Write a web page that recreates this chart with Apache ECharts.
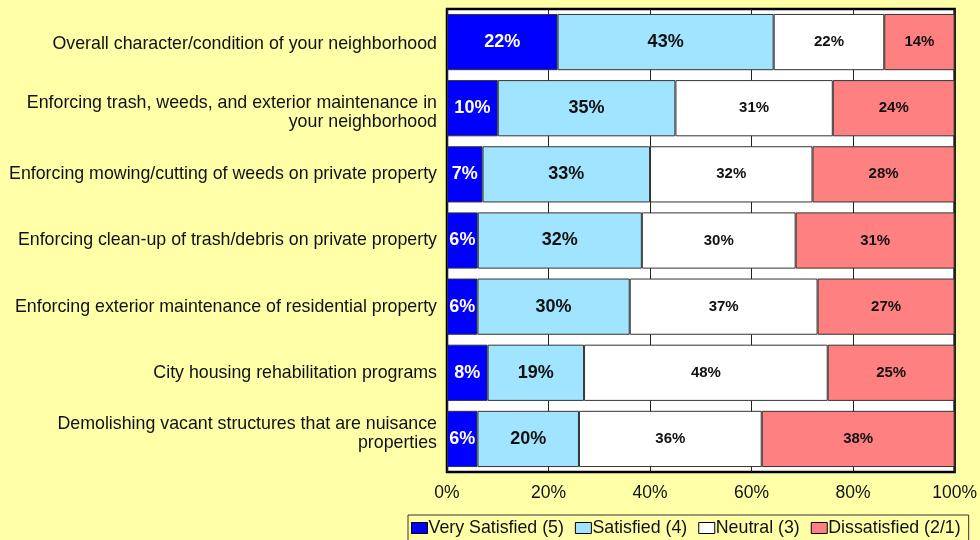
<!DOCTYPE html>
<html>
<head>
<meta charset="utf-8">
<style>
  html, body { margin: 0; padding: 0; background: #FFFFA8; }
  #chart { width: 980px; height: 540px; }
</style>
<script src="https://cdn.jsdelivr.net/npm/echarts@6/dist/echarts.min.js"></script>
</head>
<body>
<div id="chart"></div>
<script>
// Satisfaction with neighborhood services (percent of respondents)
const categories = [
  'Overall character/condition of your neighborhood',
  'Enforcing trash, weeds, and exterior maintenance in\nyour neighborhood',
  'Enforcing mowing/cutting of weeds on private property',
  'Enforcing clean-up of trash/debris on private property',
  'Enforcing exterior maintenance of residential property',
  'City housing rehabilitation programs',
  'Demolishing vacant structures that are nuisance\nproperties'
];
const verySatisfied = [22, 10, 7, 6, 6, 8, 6];
const satisfied     = [43, 35, 33, 32, 30, 19, 20];
const neutral       = [22, 31, 32, 30, 37, 48, 36];
const dissatisfied  = [14, 24, 28, 31, 27, 25, 38];
const seriesNames = ['Very Satisfied (5)', 'Satisfied (4)', 'Neutral (3)', 'Dissatisfied (2/1)'];
const xTicks = [0, 20, 40, 60, 80, 100];

const groups = [verySatisfied, satisfied, neutral, dissatisfied];
const colors = ['#0000FF', '#A0E4FF', '#FFFFFF', '#FF8080'];
const labelStyles = [
  { color: '#FFFFFF', fontSize: 18 },
  { color: '#111111', fontSize: 18 },
  { color: '#111111', fontSize: 15 },
  { color: '#111111', fontSize: 15 }
];
// small vertical nudges (px) for the category labels
const labelNudge = [1, 4, 0, 0, 0, 0, -5];

// 100% stacked: each row is scaled to its own total, labels keep the reported values
const rowTotals = categories.map((_, i) => groups.reduce((s, g) => s + g[i], 0));

const series = groups.map((values, k) => ({
  name: seriesNames[k],
  type: 'bar',
  stack: 'share',
  barCategoryGap: '15%',
  itemStyle: { color: colors[k], borderColor: '#333', borderWidth: 1 },
  label: {
    show: true,
    position: 'inside',
    fontFamily: 'Liberation Sans, Arial, sans-serif',
    fontWeight: 'bold',
    color: labelStyles[k].color,
    fontSize: labelStyles[k].fontSize,
    formatter: p => values[p.dataIndex] + '%'
  },
  emphasis: { disabled: true },
  data: values.map((v, i) => v / rowTotals[i] * 100)
}));

// category labels: the first (or last) line gets a taller line box so the block sits lower (or higher)
const LINE = 20;
const catFont = { fontSize: 17.8, color: '#111', lineHeight: LINE, fontFamily: 'Liberation Sans, Arial, sans-serif' };
const rich = { m: Object.assign({}, catFont) };
labelNudge.forEach((n, i) => {
  rich['d' + i] = Object.assign({}, catFont, { lineHeight: LINE + 2 * Math.abs(n), verticalAlign: 'bottom' });
  rich['u' + i] = Object.assign({}, catFont, { lineHeight: LINE + 2 * Math.abs(n), verticalAlign: 'top' });
});
function categoryLabel(value, index) {
  const lines = value.split('\n');
  const n = labelNudge[index];
  return lines.map((l, j) => {
    let tag = 'm';
    if (n > 0 && j === 0) tag = 'd' + index;
    if (n < 0 && j === lines.length - 1) tag = 'u' + index;
    return '{' + tag + '|' + l + '}';
  }).join('\n');
}

const chart = echarts.init(document.getElementById('chart'), null, { renderer: 'canvas' });
chart.setOption({
  backgroundColor: '#FFFFA8',
  animation: false,
  textStyle: { fontFamily: 'Liberation Sans, Arial, sans-serif' },
  grid: {
    left: 447, right: 25, top: 9, bottom: 68,
    show: true, backgroundColor: '#FFFFFF', borderColor: '#000000', borderWidth: 2.5
  },
  legend: {
    top: 515,
    left: 408,
    data: seriesNames,
    itemWidth: 16, itemHeight: 11, itemGap: 11,
    icon: 'rect',
    itemStyle: { borderColor: '#000', borderWidth: 1 },
    backgroundColor: '#FFFFA8',
    borderColor: '#333', borderWidth: 1,
    padding: [4, 8, 8, 3],
    textStyle: { fontSize: 17.8, color: '#111', padding: [0, 0, 0, -4] }
  },
  xAxis: {
    type: 'value',
    min: xTicks[0], max: xTicks[xTicks.length - 1], interval: 20,
    axisLine: { show: false },
    axisTick: { show: false },
    splitLine: { show: true, lineStyle: { color: '#222', width: 1 } },
    axisLabel: { fontSize: 17.5, color: '#111', margin: 12, formatter: v => v + '%' }
  },
  yAxis: {
    type: 'category',
    inverse: true,
    data: categories,
    axisLine: { show: false },
    axisTick: { show: false },
    axisLabel: {
      fontSize: 17.8, color: '#111', margin: 10, align: 'right', lineHeight: LINE,
      formatter: categoryLabel,
      rich: rich
    }
  },
  series: series
});
</script>
</body>
</html>
